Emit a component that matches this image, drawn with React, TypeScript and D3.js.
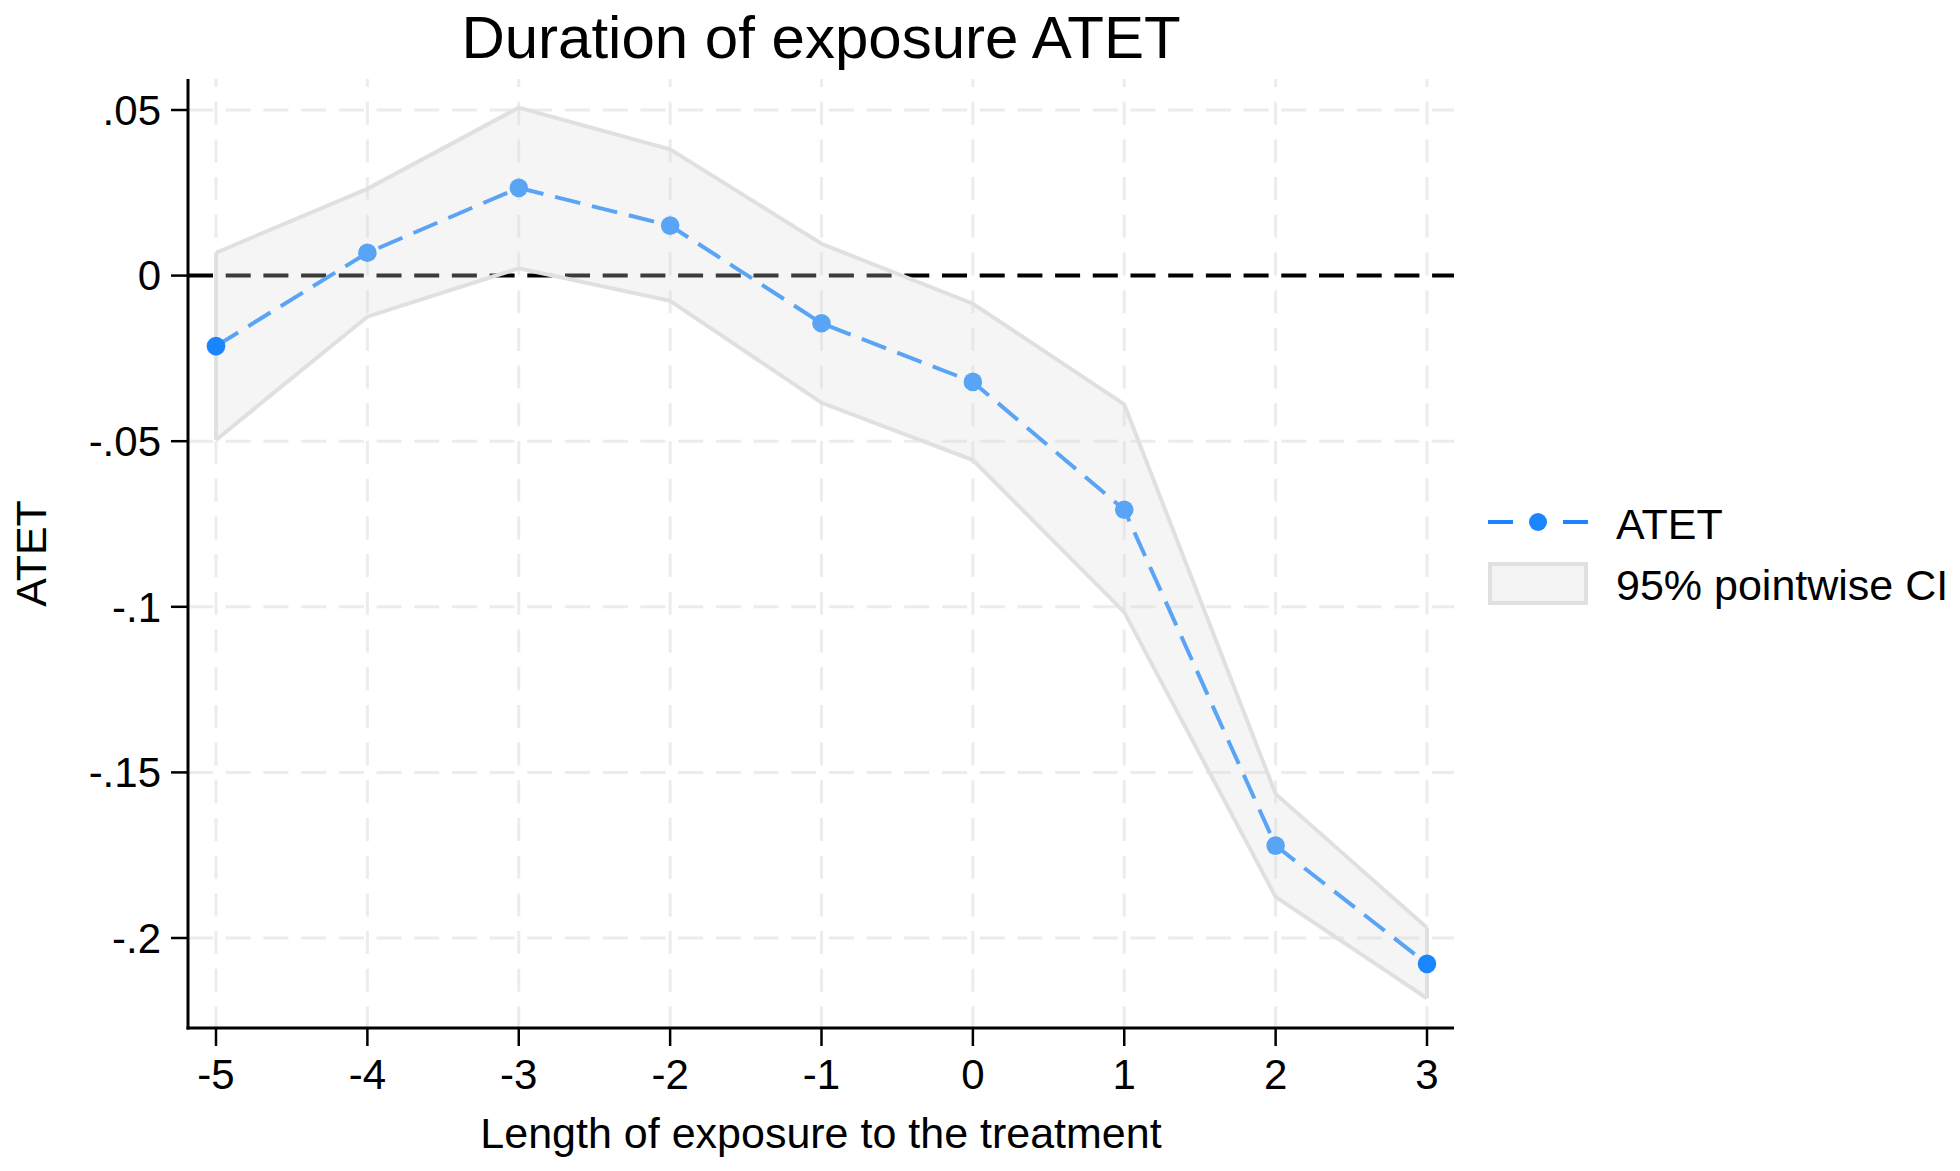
import * as d3 from 'd3';

// event-time categories (length of exposure)
const periods = [-5, -4, -3, -2, -1, 0, 1, 2, 3];
const atet = [-0.0213, 0.0069, 0.0265, 0.0151, -0.0144, -0.0321, -0.0707, -0.1721, -0.2078];
const ciUpper = [0.0069, 0.0262, 0.0507, 0.0381, 0.0096, -0.0085, -0.0389, -0.1565, -0.1969];
const ciLower = [-0.0496, -0.0124, 0.0022, -0.0076, -0.0384, -0.0557, -0.1016, -0.1876, -0.2182];
const yTicks = [0.05, 0, -0.05, -0.1, -0.15, -0.2];
const yTickLabels = ['.05', '0', '-.05', '-.1', '-.15', '-.2'];

const W = 1960;
const H = 1171;
const FONT = "'Liberation Sans', Arial, Helvetica, sans-serif";

// plot region
const left = 188;
const right = 1454;
const top = 79;
const bottom = 1028;

const lineBlue = '#5aa4f6';
const solidBlue = '#1a85ff';

export default function App() {
  const x = d3.scaleLinear().domain([-5, 3]).range([216, 1427]);
  const y = d3.scaleLinear().domain([-0.2, 0.05]).range([938, 110]);

  const rows = periods.map((p, i) => ({ p, est: atet[i], lo: ciLower[i], hi: ciUpper[i] }));

  const area = d3
    .area<(typeof rows)[number]>()
    .x((d) => x(d.p))
    .y0((d) => y(d.lo))
    .y1((d) => y(d.hi));

  const line = d3
    .line<(typeof rows)[number]>()
    .x((d) => x(d.p))
    .y((d) => y(d.est));

  return (
    <svg
      width={W}
      height={H}
      viewBox={`0 0 ${W} ${H}`}
      style={{ position: 'absolute', left: 0, top: 0, background: '#fff' }}
      fontFamily={FONT}
    >
      <rect width={W} height={H} fill='#fff' />

      {/* grid */}
      {yTicks.map((t) => (
        <line
          key={'gy' + t}
          x1={left}
          x2={right}
          y1={y(t)}
          y2={y(t)}
          stroke='#ececec'
          strokeWidth={3}
          strokeDasharray='25 12.7'
        />
      ))}
      {periods.map((p) => (
        <line
          key={'gx' + p}
          x1={x(p)}
          x2={x(p)}
          y1={top}
          y2={bottom}
          stroke='#ececec'
          strokeWidth={3}
          strokeDasharray='23 14.7'
          strokeDashoffset={15}
        />
      ))}

      {/* reference line at zero */}
      <line x1={left} x2={right} y1={y(0)} y2={y(0)} stroke='#000' strokeWidth={4} strokeDasharray='25 12.7' />

      {/* confidence band */}
      <path d={area(rows) ?? ''} fill='rgb(218,218,218)' fillOpacity={0.27} />
      <path d={area.lineY1()(rows) ?? ''} fill='none' stroke='#e0e0e0' strokeWidth={4} />
      <path d={area.lineY0()(rows) ?? ''} fill='none' stroke='#e0e0e0' strokeWidth={4} />
      <line x1={x(-5)} x2={x(-5)} y1={y(ciUpper[0])} y2={y(ciLower[0])} stroke='#e0e0e0' strokeWidth={4} />
      <line
        x1={x(3)}
        x2={x(3)}
        y1={y(ciUpper[ciUpper.length - 1])}
        y2={y(ciLower[ciLower.length - 1])}
        stroke='#e0e0e0'
        strokeWidth={4}
      />

      {/* ATET */}
      <path d={line(rows) ?? ''} fill='none' stroke={lineBlue} strokeWidth={4} strokeDasharray='26 12' />
      {rows.map((d, i) => (
        <circle
          key={'pt' + d.p}
          cx={x(d.p)}
          cy={y(d.est)}
          r={9.3}
          fill={i === 0 || i === rows.length - 1 ? solidBlue : lineBlue}
        />
      ))}

      {/* axes */}
      <line x1={left} x2={left} y1={top} y2={bottom + 1.5} stroke='#000' strokeWidth={3} />
      <line x1={left - 1.5} x2={right} y1={bottom} y2={bottom} stroke='#000' strokeWidth={3} />
      {yTicks.map((t, i) => (
        <g key={'ty' + t}>
          <line x1={left - 17} x2={left} y1={y(t)} y2={y(t)} stroke='#000' strokeWidth={2.5} />
          <text x={left - 27} y={y(t)} dy='0.35em' textAnchor='end' fontSize={42}>
            {yTickLabels[i]}
          </text>
        </g>
      ))}
      {periods.map((p) => (
        <g key={'tx' + p}>
          <line x1={x(p)} x2={x(p)} y1={bottom} y2={bottom + 18} stroke='#000' strokeWidth={2.5} />
          <text x={x(p)} y={1089} textAnchor='middle' fontSize={42}>
            {p < 0 ? '-' + Math.abs(p) : String(p)}
          </text>
        </g>
      ))}

      {/* titles */}
      <text x={(left + right) / 2} y={58} textAnchor='middle' fontSize={60}>
        Duration of exposure ATET
      </text>
      <text x={(left + right) / 2} y={1148} textAnchor='middle' fontSize={43}>
        Length of exposure to the treatment
      </text>
      <text
        transform={`translate(46, ${(top + bottom) / 2}) rotate(-90)`}
        textAnchor='middle'
        fontSize={43}
      >
        ATET
      </text>

      {/* legend */}
      <line x1={1488} x2={1513} y1={522} y2={522} stroke={solidBlue} strokeWidth={4} />
      <line x1={1563} x2={1588} y1={522} y2={522} stroke={solidBlue} strokeWidth={4} />
      <circle cx={1538} cy={522} r={9} fill={solidBlue} />
      <text x={1616} y={539} fontSize={43}>
        ATET
      </text>
      <rect x={1490} y={564} width={96} height={39} fill='#f4f4f4' stroke='#e0e0e0' strokeWidth={4} />
      <text x={1616} y={600} fontSize={43}>
        95% pointwise CI
      </text>
    </svg>
  );
}
